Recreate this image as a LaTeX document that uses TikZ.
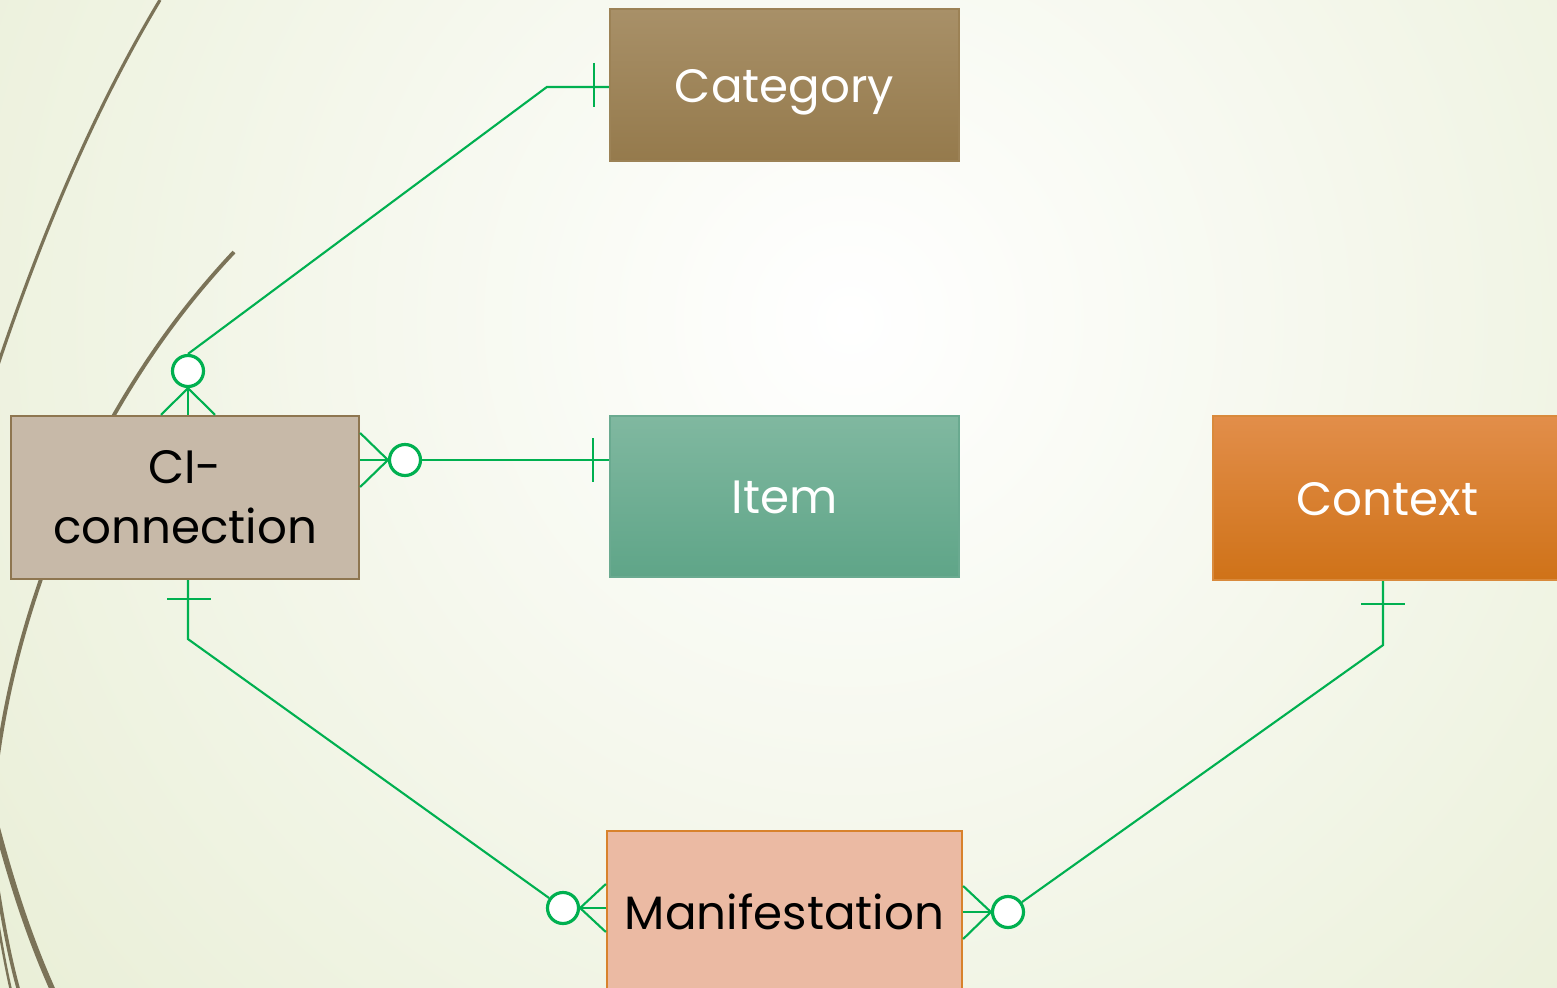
\documentclass[tikz,border=0pt]{standalone}
\usepackage{fontspec}
\setmainfont{Poppins}
\usetikzlibrary{calc}

\definecolor{relgreen}{HTML}{00B050}
\definecolor{bgout}{HTML}{DFE7C4}
\definecolor{curve}{HTML}{7B7358}
\definecolor{cattop}{HTML}{A89068}
\definecolor{catbot}{HTML}{957A4C}
\definecolor{catline}{HTML}{9C8256}
\definecolor{cifill}{HTML}{C7B9A8}
\definecolor{ciline}{HTML}{8E7650}
\definecolor{itemtop}{HTML}{80B8A0}
\definecolor{itembot}{HTML}{5FA588}
\definecolor{itemline}{HTML}{6AAA90}
\definecolor{ctxtop}{HTML}{E28E4A}
\definecolor{ctxbot}{HTML}{CF7218}
\definecolor{ctxline}{HTML}{D98A3C}
\definecolor{manfill}{HTML}{EBBAA3}
\definecolor{manline}{HTML}{D8822C}

\begin{document}
\begin{tikzpicture}[x=0.01cm,y=-0.01cm,
    box/.style={draw,line width=0.6pt,minimum width=3.49cm,minimum height=1.62cm,
        inner sep=0pt,align=center,text height=9.9pt,text depth=0pt,
        font=\fontsize{13.3}{17}\selectfont},
    rel/.style={draw=relgreen,line width=0.6pt},
    ring/.style={circle,draw=relgreen,line width=0.9pt,fill=white,
        minimum size=0.31cm,inner sep=0pt}]

\useasboundingbox (0,0) rectangle (1557,988);

% background and the curves on the left
\begin{scope}
    \clip (0,0) rectangle (1557,988);
    \shade[inner color=white,outer color=bgout] (850,320) circle (1600);
    \draw[curve,line width=0.9pt] (160,0) .. controls (100,100) and (40,230) .. (-20,420);
    \draw[curve,line width=1.1pt] (234,252) .. controls (170,320) and (130,385) .. (100,440)
        .. controls (60,520) and (10,640) .. (-5,780);
    \draw[curve,line width=1.6pt] (-10,800) .. controls (10,880) and (30,940) .. (55,995);
    \draw[curve,line width=1pt] (-8,850) .. controls (2,920) and (10,960) .. (20,995);
    \draw[curve,line width=0.7pt] (-12,860) .. controls (-2,925) and (4,960) .. (12,995);
\end{scope}

% entities
\node[box,draw=catline,top color=cattop,bottom color=catbot,text=white,
    minimum height=1.52cm] (cat) at (784.5,85) {Category};
\node[box,draw=ciline,fill=cifill,minimum width=3.48cm,minimum height=1.63cm,
    text height=,text depth=] (ci) at (185,497.5) {CI-\\connection};
\node[box,draw=itemline,top color=itemtop,bottom color=itembot,text=white,
    minimum height=1.61cm] (item) at (784.5,496.5) {Item};
\node[box,draw=ctxline,top color=ctxtop,bottom color=ctxbot,text=white,
    minimum height=1.64cm] (ctx) at (1387.5,498) {Context};
\node[box,draw=manline,fill=manfill,minimum width=3.55cm] (man) at (784.5,912) {Manifestation};

% ci -- category
\node[ring] (o1) at (188,371) {};
\foreach \d in {-27,0,27}
{
    \draw[rel] ($(ci.north)+(3+\d,0)$) -- (o1.south);
}
\draw[rel] (o1.north) -- ($(cat.west)+(-62,2)$) -- ($(cat.west)+(0,2)$);
\draw[rel] ($(cat.west)+(-15,-22)$) -- ++(0,44);

% ci -- item
\node[ring] (o2) at (405,460) {};
\foreach \d in {-27,0,27}
{
    \draw[rel] ($(ci.east)+(0,-37.5+\d)$) -- (o2.west);
}
\draw[rel] (o2.east) -- ($(item.west)+(0,-36.5)$);
\draw[rel] ($(item.west)+(-16,-58.5)$) -- ++(0,44);

% ci -- manifestation
\node[ring] (o3) at (563,908) {};
\coordinate (b3) at ($(ci.south)+(3,59)$);
\draw[rel] ($(ci.south)+(3,0)$) -- (b3) -- (o3);
\draw[rel] ($(ci.south)+(-18,19)$) -- ++(44,0);
\foreach \d in {-24,0,24}
{
    \draw[rel] (o3.east) -- ($(man.west)+(0,-4+\d)$);
}

% context -- manifestation
\node[ring] (o4) at (1008,912) {};
\coordinate (b4) at ($(ctx.south)+(-4.5,64)$);
\draw[rel] ($(ctx.south)+(-4.5,0)$) -- (b4) -- (o4);
\draw[rel] ($(ctx.south)+(-26.5,23)$) -- ++(44,0);
\foreach \d in {-26,0,27}
{
    \draw[rel] (o4.west) -- ($(man.east)+(0,\d)$);
}

\end{tikzpicture}
\end{document}
